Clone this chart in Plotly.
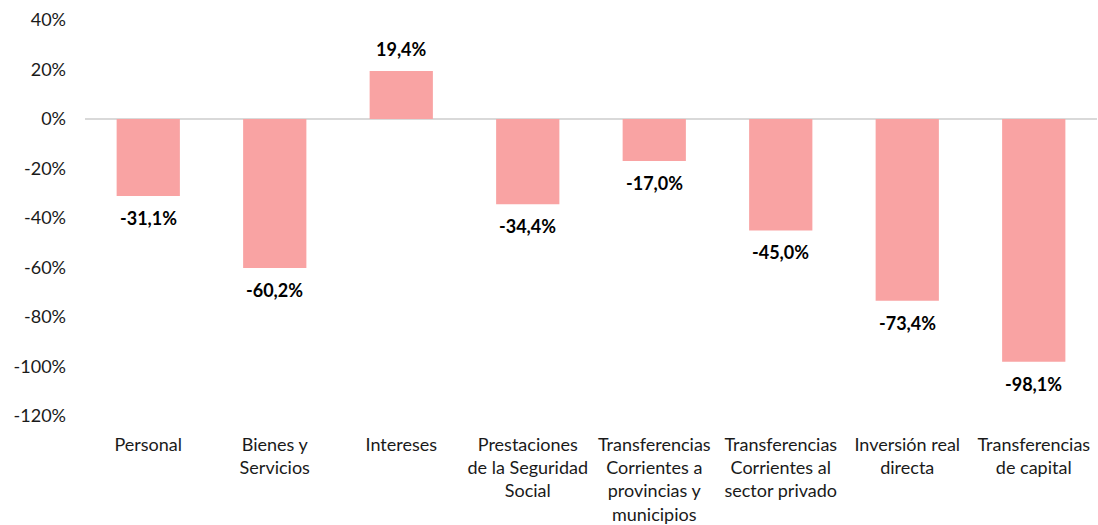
import plotly.graph_objects as go

# Variación del gasto por objeto
categorias = [
    "Personal",
    "Bienes y<br>Servicios",
    "Intereses",
    "Prestaciones<br>de la Seguridad<br>Social",
    "Transferencias<br>Corrientes a<br>provincias y<br>municipios",
    "Transferencias<br>Corrientes al<br>sector privado",
    "Inversión real<br>directa",
    "Transferencias<br>de capital",
]
variacion = [-31.1, -60.2, 19.4, -34.4, -17.0, -45.0, -73.4, -98.1]
ticks_y = [40, 20, 0, -20, -40, -60, -80, -100, -120]

fig = go.Figure()
fig.add_trace(go.Bar(
    x=categorias,
    y=variacion,
    marker=dict(color="#F9A3A3", line=dict(width=0)),
    width=0.5,
    hoverinfo="x+y",
))

# etiquetas de datos fuera de la barra
for cat, v in zip(categorias, variacion):
    fig.add_annotation(
        x=cat, y=v,
        text="<b>" + f"{v:.1f}".replace(".", ",") + "%</b>",
        showarrow=False,
        yanchor="middle",
        yshift=22 if v > 0 else -22,
        font=dict(family="Lato", size=18, color="black"),
    )

fig.update_layout(
    width=1098, height=525,
    margin=dict(l=85, r=1, t=20, b=109),
    plot_bgcolor="white",
    paper_bgcolor="white",
    showlegend=False,
    font=dict(family="Lato", size=18, color="#1a1a1a"),
)
fig.update_yaxes(
    range=[-120, 40],
    tickvals=ticks_y,
    ticktext=[f"{t}%" for t in ticks_y],
    showgrid=False, zeroline=True, zerolinecolor="#D9D9D9", zerolinewidth=2,
    showline=False, ticklabelstandoff=18, automargin=False,
)
fig.update_xaxes(
    showline=False, showgrid=False, ticks="outside", ticklen=12,
    tickcolor="rgba(0,0,0,0)", automargin=False,
)

# sin margen del body para que el gráfico ocupe toda la ventana
fig.write_html("out.html", config={"displayModeBar": False},
               post_script="document.body.style.margin='0';")
